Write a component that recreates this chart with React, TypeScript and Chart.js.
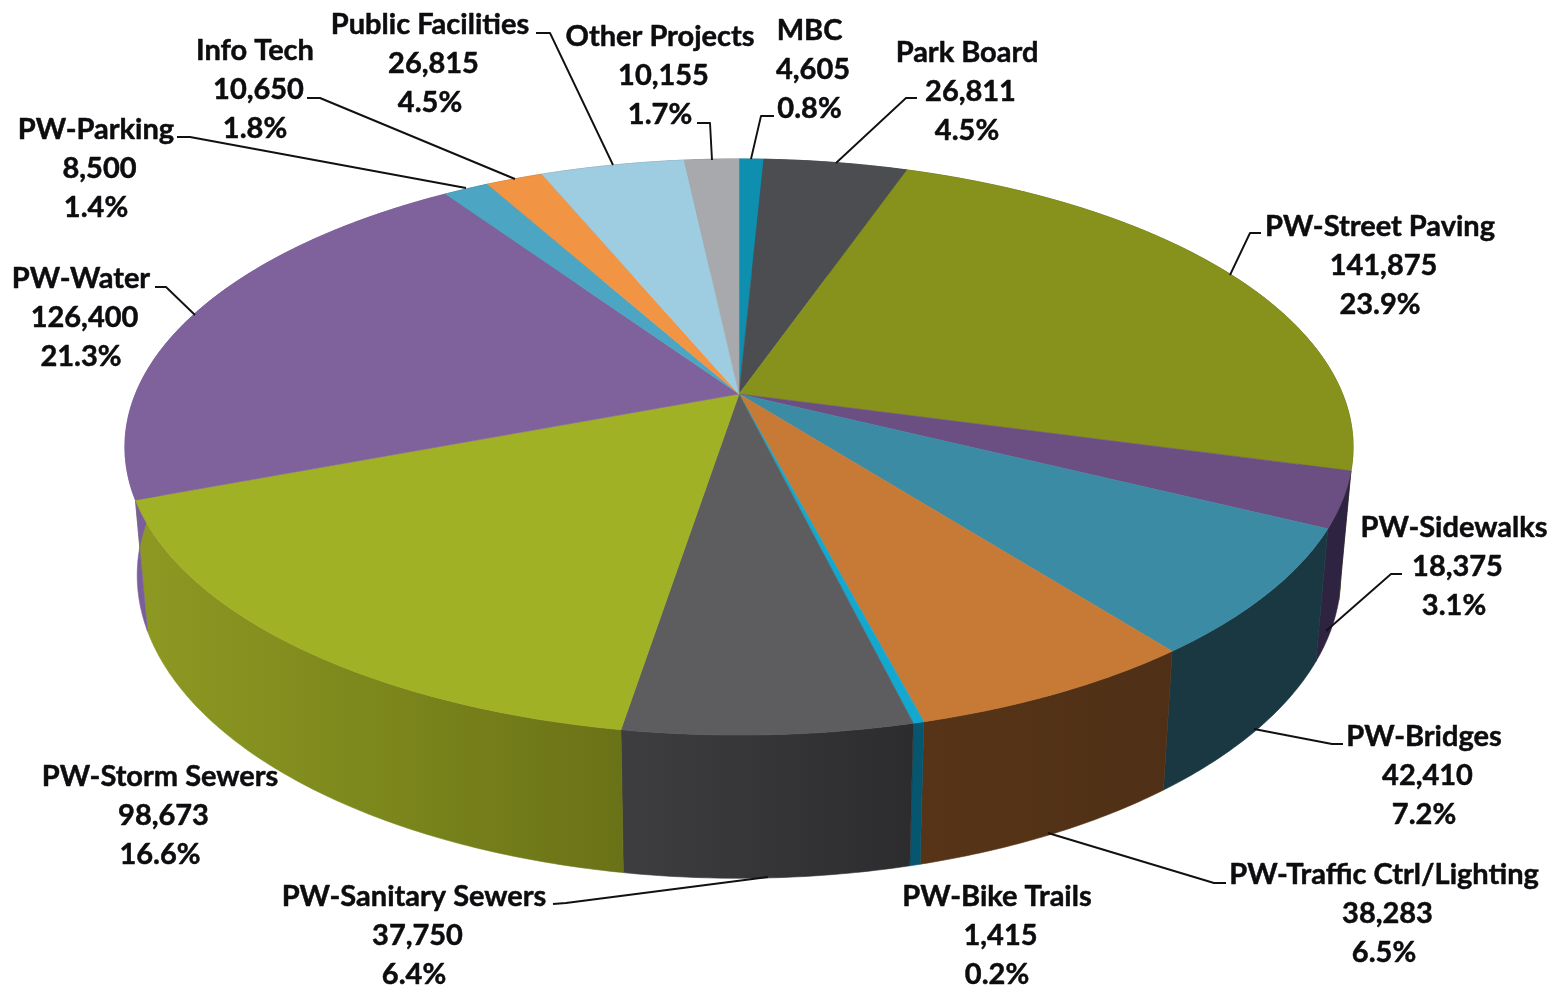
import React, { useEffect, useRef } from "react";
import { Chart, registerables } from "chart.js";

Chart.register(...registerables);

const categories = ["MBC", "Park Board", "PW-Street Paving", "PW-Sidewalks", "PW-Bridges", "PW-Traffic Ctrl/Lighting", "PW-Bike Trails", "PW-Sanitary Sewers", "PW-Storm Sewers", "PW-Water", "PW-Parking", "Info Tech", "Public Facilities", "Other Projects"];
const amounts = [4605, 26811, 141875, 18375, 42410, 38283, 1415, 37750, 98673, 126400, 8500, 10650, 26815, 10155];
const amountLabels = ["4,605", "26,811", "141,875", "18,375", "42,410", "38,283", "1,415", "37,750", "98,673", "126,400", "8,500", "10,650", "26,815", "10,155"];
const percentLabels = ["0.8%", "4.5%", "23.9%", "3.1%", "7.2%", "6.5%", "0.2%", "6.4%", "16.6%", "21.3%", "1.4%", "1.8%", "4.5%", "1.7%"];

const topColors = ["#0e8fb0", "#4c4d51", "#86921b", "#6b4f82", "#3c8ba4", "#c67a36", "#12a8d0", "#5d5d60", "#a1b126", "#7f619b", "#4ca6c3", "#f19545", "#9ecde2", "#a7a9ac"];
const wallColors: string[][] = [["#075a70"], ["#2e2e31"], ["#515a10"], ["#2f2342"], ["#1a3841"], ["#573417", "#4f3016"], ["#06566f"], ["#3e3e40", "#2c2c2e"], ["#8d9922", "#7c871c", "#6a7217"], ["#7a5f9c", "#6c5490"], ["#2e6475"], ["#92592a"], ["#5f7c88"], ["#646668"]];

// label layout: centre x, first line centre y
const labelX = [809.5, 967, 1380, 1454, 1424, 1384, 997, 414, 160, 81, 96, 255, 430, 660];
const labelY = [31, 53, 227, 528, 737, 875, 897, 897, 777, 279, 130, 51, 25, 37];
const lineGap = 39;
const amountShift = 3.5;
const leaders: (number[][] | null)[] = [
  [[774, 116], [761, 116], [751, 159]],
  [[917, 98], [906, 98], [836, 163]],
  [[1261, 233], [1250, 233], [1230, 275]],
  [[1402, 574], [1391, 574], [1326, 631]],
  [[1343, 744], [1332, 744], [1254, 729]],
  [[1226, 883], [1214, 883], [1048, 833]],
  null,
  [[553, 904], [566, 903], [768, 877]],
  null,
  [[155, 287], [166, 287], [195, 315]],
  [[177, 137], [190, 137], [466, 188]],
  [[307, 98], [320, 98], [515, 179]],
  [[536, 33], [550, 33], [613, 165]],
  [[697, 123], [710, 123], [712, 160]],
];

// perspective projection of the unit disc
const APEX_X = 739;
const APEX_Y = 394;
const SCALE_X = 603.6;
const SCALE_Y = 278.3;
const PERSPECTIVE = -0.184;

function rimTop(a: number): [number, number] {
  const u = Math.cos(a), v = Math.sin(a);
  const d = 1 + PERSPECTIVE * v;
  return [APEX_X + (SCALE_X * u) / d, APEX_Y + (SCALE_Y * v) / d];
}
function rimBottom(a: number): [number, number] {
  const [x, y] = rimTop(a);
  return [APEX_X + (x - APEX_X) * 0.98, y * 1.052 + 105];
}
function arcPoints(f: (a: number) => [number, number], s: number, e: number): [number, number][] {
  const n = Math.max(2, Math.ceil((e - s) / 0.01));
  const pts: [number, number][] = [];
  for (let i = 0; i <= n; i++) pts.push(f(s + ((e - s) * i) / n));
  return pts;
}
function fillShape(ctx: CanvasRenderingContext2D, pts: [number, number][], fill: string | CanvasGradient) {
  ctx.beginPath();
  pts.forEach((p, i) => (i ? ctx.lineTo(p[0], p[1]) : ctx.moveTo(p[0], p[1])));
  ctx.closePath();
  ctx.fillStyle = fill;
  ctx.strokeStyle = fill;
  ctx.lineWidth = 0.6;
  ctx.lineJoin = "round";
  ctx.fill();
  ctx.stroke();
}

const pie3d = {
  id: "pie3d",
  beforeDatasetDraw(chart: any) {
    const ctx: CanvasRenderingContext2D = chart.ctx;
    const arcs = chart.getDatasetMeta(0).data;
    ctx.save();
    arcs.forEach((arc: any, i: number) => {
      const { startAngle, endAngle } = arc.getProps(["startAngle", "endAngle"], true);
      const top = arcPoints(rimTop, startAngle, endAngle);
      const bottom = arcPoints(rimBottom, startAngle, endAngle);
      const stops = wallColors[i];
      let fill: string | CanvasGradient = stops[0];
      if (stops.length > 1) {
        const xs = top.concat(bottom).map((p) => p[0]);
        const g = ctx.createLinearGradient(Math.min(...xs), 0, Math.max(...xs), 0);
        stops.forEach((c, k) => g.addColorStop(k / (stops.length - 1), c));
        fill = g;
      }
      fillShape(ctx, top.concat(bottom.reverse()), fill);
    });
    arcs.forEach((arc: any, i: number) => {
      const { startAngle, endAngle } = arc.getProps(["startAngle", "endAngle"], true);
      const pts: [number, number][] = [[APEX_X, APEX_Y], ...arcPoints(rimTop, startAngle, endAngle)];
      fillShape(ctx, pts, topColors[i]);
    });
    ctx.restore();
    return false;
  },
  afterDatasetsDraw(chart: any) {
    const ctx: CanvasRenderingContext2D = chart.ctx;
    ctx.save();
    ctx.strokeStyle = "#111111";
    ctx.lineWidth = 1.9;
    ctx.lineJoin = "round";
    leaders.forEach((l) => {
      if (!l) return;
      ctx.beginPath();
      l.forEach((p, i) => (i ? ctx.lineTo(p[0], p[1]) : ctx.moveTo(p[0], p[1])));
      ctx.stroke();
    });
    ctx.fillStyle = "#0d0d10";
    ctx.strokeStyle = "#0d0d10";
    ctx.lineWidth = 0.5;
    ctx.font = "bold 29px Lato";
    ctx.textAlign = "center";
    ctx.textBaseline = "middle";
    const put = (s: string, x: number, y: number) => {
      ctx.fillText(s, x, y);
      ctx.strokeText(s, x, y);
    };
    categories.forEach((name, i) => {
      put(name, labelX[i], labelY[i]);
      put(amountLabels[i], labelX[i] + amountShift, labelY[i] + lineGap);
      put(percentLabels[i], labelX[i], labelY[i] + lineGap * 2);
    });
    ctx.restore();
  },
};

export default function App() {
  const ref = useRef<HTMLCanvasElement>(null);
  useEffect(() => {
    document.body.style.margin = "0";
    document.body.style.background = "#ffffff";
    const chart = new Chart(ref.current!, {
      type: "pie",
      data: {
        labels: categories,
        datasets: [{ data: amounts, backgroundColor: topColors, borderWidth: 0 }],
      },
      options: {
        responsive: false,
        devicePixelRatio: 1,
        animation: false,
        rotation: 0,
        plugins: { legend: { display: false }, tooltip: { enabled: false } },
      },
      plugins: [pie3d],
    } as any);
    return () => chart.destroy();
  }, []);
  return <canvas ref={ref} width={1562} height={986} style={{ display: "block" }} />;
}
